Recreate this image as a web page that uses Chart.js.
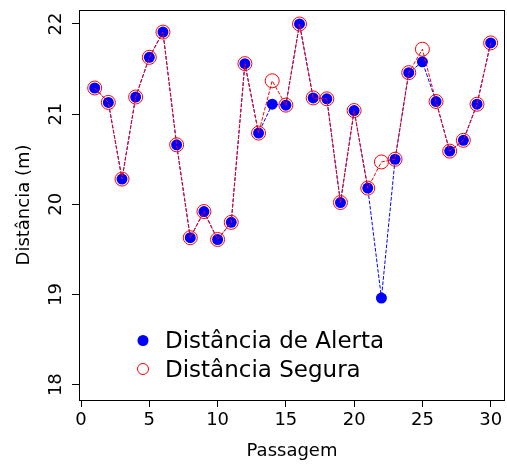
<!DOCTYPE html>
<html>
<head>
<meta charset="utf-8">
<script src="https://cdn.jsdelivr.net/npm/chart.js@4"></script>
<style>
  html, body { margin: 0; padding: 0; background: #fff; }
  canvas { display: block; }
</style>
</head>
<body>
<canvas id="chart" width="507" height="464"></canvas>
<script>
const passagens = [1, 2, 3, 4, 5, 6, 7, 8, 9, 10, 11, 12, 13, 14, 15, 16, 17, 18, 19, 20, 21, 22, 23, 24, 25, 26, 27, 28, 29, 30];
const distAlerta = [21.29, 21.13, 20.28, 21.19, 21.63, 21.91, 20.66, 19.63, 19.92, 19.61, 19.80, 21.56, 20.79, 21.11, 21.10, 22.00, 21.18, 21.17, 20.02, 21.04, 20.18, 18.96, 20.50, 21.46, 21.58, 21.14, 20.59, 20.71, 21.11, 21.79];
const distSegura = [21.29, 21.13, 20.28, 21.19, 21.63, 21.91, 20.66, 19.63, 19.92, 19.61, 19.80, 21.56, 20.79, 21.37, 21.10, 22.00, 21.18, 21.17, 20.02, 21.04, 20.18, 20.47, 20.50, 21.46, 21.72, 21.14, 20.59, 20.71, 21.11, 21.79];
const xTicks = [0, 5, 10, 15, 20, 25, 30];
const yTicks = [18, 19, 20, 21, 22];

const FONT = 'DejaVu Sans';

const toPoints = values => passagens.map((x, i) => ({ x, y: values[i] }));

// frame, rotated y tick labels and the in-plot legend
const extras = {
    id: 'extras',
    afterDraw(chart) {
        const { ctx, chartArea: a, scales } = chart;
        ctx.save();
        ctx.strokeStyle = '#000';
        ctx.lineWidth = 1;
        ctx.strokeRect(a.left + 0.5, a.top + 0.5, a.right - a.left - 1, a.bottom - a.top);

        ctx.fillStyle = '#000';
        ctx.font = `18px "${FONT}"`;
        ctx.textAlign = 'center';
        ctx.textBaseline = 'alphabetic';
        scales.y.ticks.forEach(t => {
            const y = scales.y.getPixelForValue(t.value);
            ctx.save();
            ctx.translate(60.5, y);
            ctx.rotate(-Math.PI / 2);
            ctx.fillText(String(t.value), 0, 0);
            ctx.restore();
        });

        const rows = [348, 376.5];
        ctx.font = `23px "${FONT}"`;
        ctx.textAlign = 'left';
        chart.data.datasets.slice().sort((p, q) => q.order - p.order).forEach((ds, i) => {
            const cy = rows[i] - 7.5;
            ctx.beginPath();
            ctx.arc(143, cy, 5.5, 0, Math.PI * 2);
            if (ds.legendFill) {
                ctx.fillStyle = ds.borderColor;
                ctx.fill();
            } else {
                ctx.strokeStyle = ds.borderColor;
                ctx.lineWidth = 1;
                ctx.stroke();
            }
            ctx.fillStyle = '#000';
            ctx.fillText(ds.label, 165, rows[i]);
        });
        ctx.restore();
    }
};

new Chart(document.getElementById('chart').getContext('2d'), {
    type: 'line',
    data: {
        datasets: [{
            label: 'Distância Segura',
            data: toPoints(distSegura),
            order: 0,
            borderColor: '#ff0000',
            borderWidth: 1,
            borderDash: [3.7, 1.6],
            pointRadius: 7,
            pointBackgroundColor: 'rgba(0,0,0,0)',
            pointBorderColor: '#ff0000',
            pointBorderWidth: 1,
            fill: false,
            legendFill: false,
        }, {
            label: 'Distância de Alerta',
            data: toPoints(distAlerta),
            order: 1,
            borderColor: '#0000ff',
            borderWidth: 1,
            borderDash: [3.7, 1.6],
            pointRadius: 5.5,
            pointBackgroundColor: '#0000ff',
            pointBorderColor: '#0000ff',
            pointBorderWidth: 0,
            fill: false,
            legendFill: true,
        }],
    },
    options: {
        responsive: false,
        animation: false,
        devicePixelRatio: 1,
        layout: { autoPadding: false, padding: { top: 10, right: 2, left: 0, bottom: 0 } },
        plugins: {
            legend: { display: false },
            tooltip: { enabled: false },
        },
        scales: {
            x: {
                type: 'linear',
                min: -0.15,
                max: 31.05,
                afterFit: s => { s.height = 64; s.paddingLeft = 0; s.paddingRight = 0; },
                afterBuildTicks: s => { s.ticks = xTicks.map(value => ({ value })); },
                border: { display: false },
                grid: { drawOnChartArea: false, drawTicks: true, tickLength: 7, color: '#000', lineWidth: 1 },
                ticks: { color: '#000', padding: 3, maxRotation: 0, font: { family: FONT, size: 18 } },
                title: { display: true, text: 'Passagem', color: '#000', padding: { top: 0, bottom: 2 }, font: { family: FONT, size: 18 } },
            },
            y: {
                type: 'linear',
                min: 17.83,
                max: 22.155,
                afterFit: s => { s.width = 79; s.paddingTop = 0; s.paddingBottom = 0; },
                afterBuildTicks: s => { s.ticks = yTicks.map(value => ({ value })); },
                border: { display: false },
                grid: { drawOnChartArea: false, drawTicks: true, tickLength: 7, color: '#000', lineWidth: 1 },
                ticks: { display: false },
                title: { display: true, text: 'Distância (m)', color: '#000', padding: { top: 14, bottom: 0 }, font: { family: FONT, size: 18 } },
            },
        },
    },
    plugins: [extras],
});
</script>
</body>
</html>
